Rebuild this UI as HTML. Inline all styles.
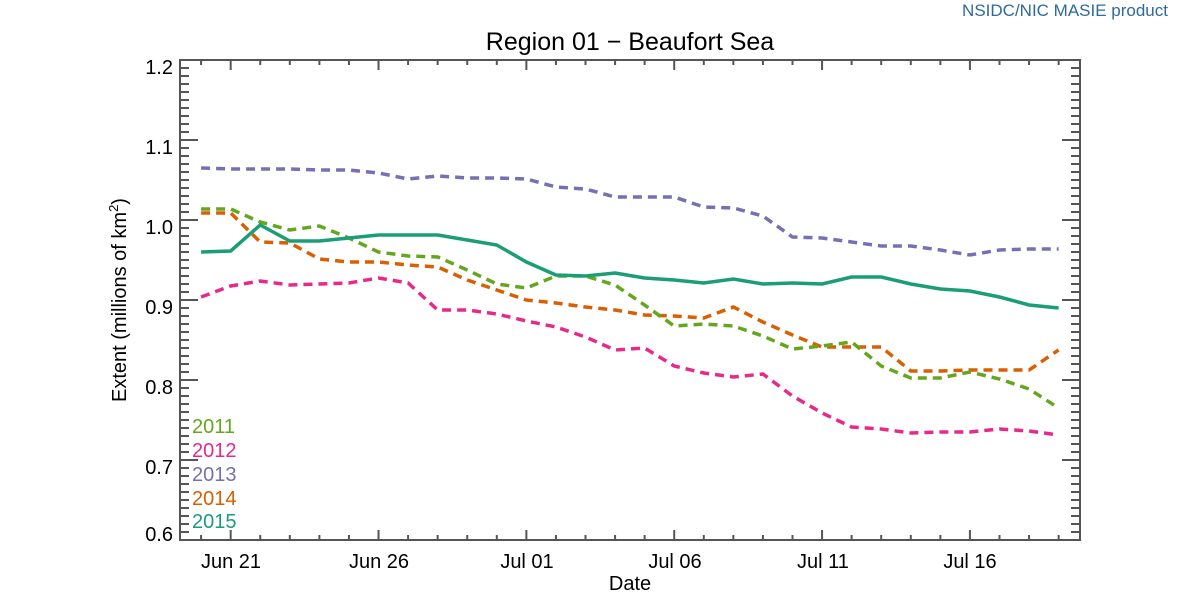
<!DOCTYPE html>
<html><head><meta charset="utf-8"><style>body{margin:0;background:#fff}svg{display:block}</style></head>
<body>
<svg width="1200" height="600" xmlns="http://www.w3.org/2000/svg" font-family="Liberation Sans, sans-serif">
<rect width="1200" height="600" fill="#fff"/>
<text x="1168" y="16" text-anchor="end" font-size="17" fill="#2f6a9a">NSIDC/NIC MASIE product</text>
<text x="630" y="50" text-anchor="middle" font-size="25" fill="#000">Region 01 − Beaufort Sea</text>
<g id="ax" stroke="#555" stroke-width="2" fill="none">
<rect x="180" y="60" width="900" height="480"/>
</g>
<g stroke="#555" stroke-width="2" id="ticks"></g>
<g font-size="20" fill="#000" text-anchor="end">
<text x="173" y="74">1.2</text><text x="173" y="154">1.1</text><text x="173" y="234">1.0</text>
<text x="173" y="314">0.9</text><text x="173" y="394">0.8</text><text x="173" y="474">0.7</text><text x="173" y="541">0.6</text>
</g>
<g font-size="20" fill="#000" text-anchor="middle">
<text x="231" y="568">Jun 21</text><text x="379" y="568">Jun 26</text><text x="527" y="568">Jul 01</text>
<text x="675" y="568">Jul 06</text><text x="823" y="568">Jul 11</text><text x="970" y="568">Jul 16</text>
<text x="630" y="590">Date</text>
</g>
<text transform="translate(126,300) rotate(-90)" text-anchor="middle" font-size="20">Extent (millions of km<tspan dy="-8" font-size="13">2</tspan><tspan dy="8">)</tspan></text>
<g font-size="20">
<text x="192" y="433" fill="#66a61e">2011</text>
<text x="192" y="457" fill="#e7298a">2012</text>
<text x="192" y="481" fill="#7570b3">2013</text>
<text x="192" y="505" fill="#d95f02">2014</text>
<text x="192" y="528" fill="#1b9e77">2015</text>
</g>
<g id="series" fill="none" stroke-width="3.5"></g>
<script>
var ns="http://www.w3.org/2000/svg",t=document.getElementById('ticks');
function L(x1,y1,x2,y2){var l=document.createElementNS(ns,'line');l.setAttribute('x1',x1);l.setAttribute('y1',y1);l.setAttribute('x2',x2);l.setAttribute('y2',y2);t.appendChild(l);}
for(var k=0;k<=60;k++){var y=60+k*8,len=(k%10==0)?18:9;L(180,y,180+len,y);L(1080,y,1080-len,y);}
for(var d=0;d<30;d++){var x=201.1+d*29.57,len=((d-1)%5==0)?10:5;L(x,540,x,540-len);L(x,60,x,60+len);}
var S=[
["#7570b3",[168,169,169,169,170,170,173,179,176,178,178,179,187,189,197,197,197,207,208,216,237,238,242,246,246,250,255,250,249,249],1],
["#d95f02",[213,213,242,243,259,262,262,265,267,280,290,300,303,307,310,315,316,318,307,322,335,347,347,347,371,371,370,370,370,350],1],
["#66a61e",[209,209,222,230,226,238,252,256,257,270,284,288,276,276,285,305,326,324,326,336,349,346,342,366,378,378,372,379,389,408],1],
["#e7298a",[297,286,281,285,284,283,278,283,310,310,314,321,327,337,350,348,366,373,377,374,396,413,427,429,433,432,432,429,431,435],1],
["#1b9e77",[252,251,225,241,241,238,235,235,235,240,245,262,275,276,273,278,280,283,279,284,283,284,277,277,284,289,291,297,305,308],0]];
var g=document.getElementById('series');
S.forEach(function(s){var p=document.createElementNS(ns,'polyline');
p.setAttribute('points',s[1].map(function(v,i){return (201.1+i*29.57).toFixed(1)+','+v}).join(' '));
p.setAttribute('stroke',s[0]);if(s[2])p.setAttribute('stroke-dasharray','9 6');g.appendChild(p);});
</script>
</svg>
</body></html>
